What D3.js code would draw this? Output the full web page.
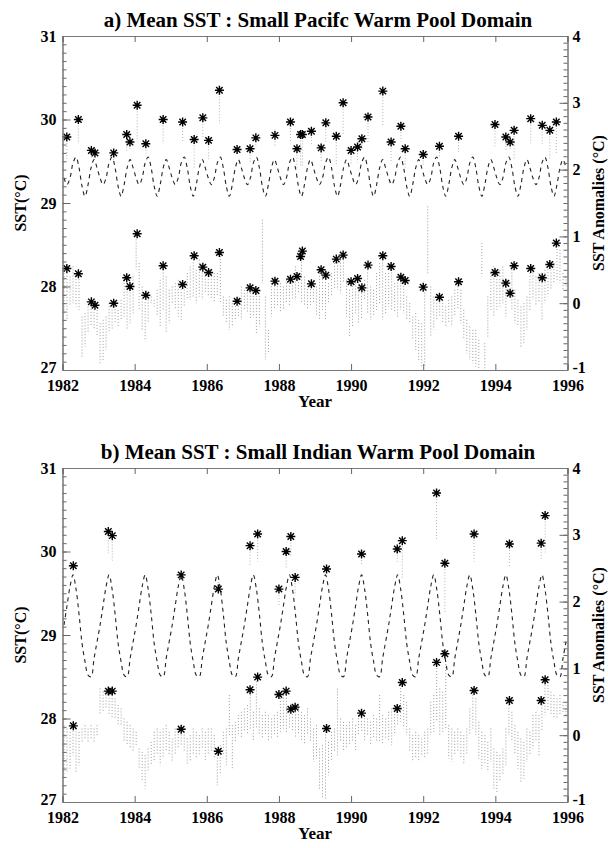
<!DOCTYPE html>
<html>
<head>
<meta charset="utf-8">
<script src="https://cdn.jsdelivr.net/npm/d3@7"></script>
<style>
  body { margin: 0; background: #fff; }
</style>
</head>
<body>
<div id="chart"></div>
<script>
// tick values
const xTicks = [1982, 1984, 1986, 1988, 1990, 1992, 1994, 1996];
const sstTicks = [27, 28, 29, 30, 31];
const anomTicks = [-1, 0, 1, 2, 3, 4];

// ---- a) Pacific ----
// mean seasonal cycle, Jan..Dec (degC)
const pacClim = [29.30, 29.22, 29.30, 29.48, 29.55, 29.42, 29.20, 29.08, 29.22, 29.42, 29.52, 29.42];

// marked events: time, SST (left axis) and anomaly (right axis)
const pacEventYear = [1982.12, 1982.44, 1982.80, 1982.90, 1983.42, 1983.78, 1983.87, 1984.07, 1984.31, 1984.79,
  1985.33, 1985.65, 1985.89, 1986.05, 1986.35, 1986.84, 1987.20, 1987.36, 1987.89, 1988.32,
  1988.50, 1988.60, 1988.65, 1988.90, 1989.17, 1989.30, 1989.59, 1989.78, 1990.00, 1990.18,
  1990.30, 1990.47, 1990.88, 1991.11, 1991.38, 1991.50, 1992.00, 1992.45, 1992.98, 1993.99,
  1994.29, 1994.41, 1994.52, 1994.98, 1995.30, 1995.51, 1995.69];
const pacEventSst = [29.79, 30.00, 29.63, 29.60, 29.60, 29.82, 29.73, 30.17, 29.71, 30.00,
  29.97, 29.76, 30.02, 29.75, 30.35, 29.64, 29.65, 29.78, 29.81, 29.97,
  29.65, 29.82, 29.82, 29.86, 29.66, 29.96, 29.80, 30.20, 29.63, 29.67,
  29.77, 30.03, 30.34, 29.73, 29.92, 29.65, 29.58, 29.68, 29.80, 29.94,
  29.79, 29.73, 29.87, 30.01, 29.93, 29.87, 29.97];
const pacEventAnom = [0.52, 0.44, 0.02, -0.03, 0.00, 0.38, 0.25, 1.04, 0.12, 0.56,
  0.28, 0.71, 0.54, 0.46, 0.76, 0.03, 0.23, 0.19, 0.33, 0.36,
  0.40, 0.70, 0.78, 0.29, 0.50, 0.42, 0.66, 0.72, 0.32, 0.37,
  0.23, 0.57, 0.71, 0.55, 0.39, 0.34, 0.24, 0.09, 0.32, 0.46,
  0.30, 0.15, 0.56, 0.52, 0.38, 0.58, 0.90];

// monthly anomaly range (weekly max / min), Jan 1982 .. Dec 1995
const pacAnomHi = [
  0.45, 0.50, 0.40, 0.55, 0.45, 0.45, -0.20, -0.15, -0.05, 0.05, 0.00, -0.10,
  -0.30, -0.25, -0.20, 0.00, -0.05, 0.00, -0.10, 0.05, 0.35, 0.40, 0.25, 0.40,
  1.00, 0.60, 0.25, 0.15, 0.10, 0.10, 0.05, 0.20, 0.35, 0.55, 0.40, 0.20,
  0.25, 0.30, 0.35, 0.30, 0.25, 0.45, 0.55, 0.70, 0.50, 0.65, 0.55, 0.50,
  0.45, 0.50, 0.45, 0.45, 0.75, 0.10, 0.05, 0.10, 0.00, 0.05, 0.05, 0.25,
  0.20, 0.25, 0.20, 0.15, 0.20, 0.15, 1.25, 0.10, -0.40, 0.30, 0.35, 0.30,
  0.30, 0.25, 0.35, 0.35, 0.40, 0.55, 0.45, 0.80, 0.40, 0.30, 0.30, 0.35,
  0.25, 0.50, 0.45, 0.45, 0.30, 0.45, 0.65, 0.70, 0.65, 0.70, 0.35, 0.20,
  0.35, 0.40, 0.40, 0.20, 0.35, 0.55, 0.25, 0.20, 0.45, 0.60, 0.70, 0.45,
  0.45, 0.55, 0.30, 0.40, 0.40, 0.35, 0.10, 0.00, -0.20, -0.15, -0.25, -0.30,
  0.25, 1.45, 0.25, 0.10, 0.00, 0.10, 0.05, -0.05, 0.05, 0.10, 0.20, 0.30,
  0.20, -0.10, -0.25, -0.35, -0.40, -0.40, -0.55, 0.90, -0.60, 0.10, 0.45, 0.55,
  0.45, 0.50, 0.55, 0.35, 0.30, 0.55, 0.20, 0.05, -0.05, 0.00, 0.10, 0.50,
  0.55, 0.40, 0.45, 0.40, 0.50, 0.60, 0.55, 0.60, 0.90, 0.80, 0.45, 0.40];
const pacAnomLo = [
  -0.15, -0.25, -0.05, 0.00, -0.05, -0.10, -0.80, -0.65, -0.45, -0.35, -0.40, -0.50,
  -0.90, -0.85, -0.70, -0.45, -0.40, -0.30, -0.35, -0.25, -0.20, -0.40, -0.30, -0.15,
  0.50, -0.10, -0.40, -0.55, -0.30, 0.00, -0.05, -0.20, -0.35, -0.10, -0.45, -0.30,
  0.00, -0.10, -0.20, -0.25, -0.05, 0.05, 0.05, 0.10, 0.00, 0.10, 0.05, 0.15,
  0.10, 0.05, 0.00, 0.10, 0.00, -0.20, -0.30, -0.40, -0.35, -0.25, -0.20, -0.25,
  -0.10, -0.15, -0.25, -0.20, -0.45, -0.35, 0.30, -0.85, -0.75, -0.20, -0.10, -0.05,
  -0.15, -0.10, 0.00, -0.05, 0.05, 0.05, 0.15, 0.00, -0.05, -0.10, -0.05, 0.00,
  -0.20, -0.25, -0.10, -0.25, 0.00, 0.10, 0.20, 0.20, 0.15, 0.30, -0.20, -0.50,
  -0.35, -0.15, -0.30, -0.25, 0.05, -0.15, -0.25, -0.20, -0.10, 0.00, -0.25, -0.15,
  -0.05, -0.10, -0.15, -0.20, -0.10, -0.15, -0.25, -0.30, -0.55, -0.70, -0.85, -0.95,
  -0.95, 0.45, -0.50, -0.40, -0.25, -0.20, -0.30, -0.35, -0.30, -0.35, -0.20, -0.10,
  -0.30, -0.55, -0.75, -0.85, -0.90, -0.95, -1.00, 0.40, -1.00, -0.50, -0.10, -0.20,
  -0.10, -0.05, 0.00, -0.20, 0.10, -0.10, -0.30, -0.35, -0.65, -0.60, -0.40, -0.10,
  0.05, -0.05, 0.00, -0.25, 0.00, 0.10, 0.20, 0.30, 0.35, 0.30, 0.20, 0.25];

// ---- b) Indian ----
const indClim = [29.12, 29.35, 29.58, 29.72, 29.55, 29.25, 28.90, 28.68, 28.52, 28.50, 28.72, 28.92];

const indEventYear = [1982.30, 1983.27, 1983.38, 1985.29, 1986.32, 1987.20, 1987.41, 1988.00, 1988.20, 1988.33,
  1988.45, 1989.32, 1990.29, 1991.28, 1991.42, 1992.37, 1992.60, 1993.41, 1994.39, 1995.27, 1995.38];
const indEventSst = [29.83, 30.24, 30.19, 29.72, 29.55, 30.07, 30.21, 29.55, 30.00, 30.18,
  29.69, 29.79, 29.97, 30.03, 30.13, 30.70, 29.86, 30.21, 30.09, 30.10, 30.43];
const indEventAnom = [0.14, 0.66, 0.66, 0.09, -0.24, 0.68, 0.87, 0.61, 0.66, 0.39,
  0.42, 0.10, 0.33, 0.40, 0.79, 1.09, 1.22, 0.67, 0.52, 0.52, 0.83];

const indAnomHi = [
  0.15, 0.10, 0.05, 0.20, 0.10, 0.05, 0.10, 0.15, 0.10, 0.15, 0.10, 0.15,
  0.70, 0.65, 0.70, 0.65, 0.60, 0.55, 0.45, 0.40, 0.25, 0.20, 0.15, 0.10,
  0.05, -0.20, -0.25, -0.30, -0.20, -0.10, 0.05, 0.10, 0.05, 0.10, 0.15, 0.05,
  -0.05, 0.10, 0.15, 0.10, 0.10, -0.05, 0.00, 0.10, 0.05, 0.00, 0.10, 0.05,
  0.10, 0.10, 0.00, -0.20, -0.15, 0.05, 0.10, 0.60, 0.15, 0.20, 0.30, 0.35,
  0.40, 0.45, 0.70, 0.35, 0.85, 0.40, 0.30, 0.35, 0.30, 0.25, 0.30, 0.35,
  0.60, 0.65, 0.65, 0.40, 0.45, 0.40, 0.45, 0.35, 0.30, 0.40, 0.25, 0.10,
  0.15, -0.20, -0.15, 0.10, -0.10, 0.05, 0.10, 0.70, 0.25, 0.20, 0.15, 0.20,
  0.25, 0.15, 0.30, 0.35, 0.30, 0.25, 0.20, 0.30, 0.25, 0.60, 0.30, 0.25,
  0.35, 0.40, 0.45, 0.40, 0.75, 0.60, 0.50, 0.10, 0.00, 0.05, 0.00, -0.05,
  0.05, 0.10, 0.50, 0.60, 1.05, 0.70, 0.65, 1.20, 0.15, 0.10, 0.05, 0.10,
  0.05, 0.00, 0.10, 0.40, 0.65, 0.55, 0.20, 0.05, 0.00, -0.10, 0.10, -0.20,
  -0.25, -0.30, -0.20, 0.10, 0.50, 0.35, 0.15, 0.05, -0.05, -0.10, 0.10, 0.05,
  0.30, 0.35, 0.30, 0.50, 0.80, 0.75, 0.65, 0.60, 0.55, 0.60, 0.50, 0.45];
const indAnomLo = [
  -0.60, -0.55, -0.50, -0.30, -0.55, -0.45, -0.10, -0.05, -0.10, -0.05, -0.10, 0.00,
  0.30, 0.35, 0.40, 0.30, 0.25, 0.25, 0.15, 0.15, -0.10, -0.15, -0.20, -0.25,
  -0.15, -0.50, -0.70, -0.80, -0.55, -0.45, -0.40, -0.30, -0.45, -0.35, -0.25, -0.30,
  -0.40, -0.30, -0.20, -0.15, -0.25, -0.45, -0.40, -0.30, -0.35, -0.30, -0.20, -0.40,
  -0.30, -0.25, -0.35, -0.75, -0.60, -0.30, -0.45, 0.00, -0.50, -0.10, 0.00, -0.05,
  0.05, 0.00, 0.10, -0.10, 0.10, 0.00, -0.05, 0.00, -0.10, -0.05, 0.00, -0.05,
  0.05, 0.10, 0.05, 0.10, 0.05, -0.05, 0.00, -0.10, -0.15, 0.00, -0.10, -0.40,
  -0.35, -0.80, -0.95, -0.95, -0.60, -0.40, -0.25, -0.30, -0.10, -0.25, -0.20, -0.15,
  -0.10, -0.25, 0.00, 0.05, -0.10, 0.00, -0.15, -0.05, -0.10, -0.10, -0.15, -0.05,
  -0.10, -0.15, 0.00, 0.15, 0.20, 0.10, 0.00, -0.25, -0.40, -0.35, -0.40, -0.30,
  -0.35, -0.30, 0.00, 0.05, 0.20, 0.00, 0.05, 0.10, -0.35, -0.40, -0.30, -0.25,
  -0.35, -0.45, -0.30, 0.00, 0.10, 0.00, -0.35, -0.50, -0.45, -0.55, -0.40, -0.80,
  -0.85, -0.70, -0.60, -0.45, 0.00, -0.10, -0.30, -0.50, -0.70, -0.65, -0.40, -0.30,
  -0.20, -0.10, -0.30, 0.05, 0.30, 0.35, 0.30, 0.25, 0.25, 0.30, 0.35, 0.30];


const W = 608, H = 848;
const left = 62.5, right = 567.5;
const font = "'Liberation Serif', 'Times New Roman', serif";

const svg = d3.select("#chart").append("svg")
  .attr("width", W)
  .attr("height", H)
  .style("font-family", font);

// mid-month times for the 14 years of monthly data
const months = d3.range(pacAnomHi.length).map(i => 1982 + (i + 0.5) / 12);

// asterisk glyph (IDL psym=2 look)
const asterisk = r => {
  const a = r * 0.72;
  return `M${-r},0L${r},0M0,${-r}L0,${r}M${-a},${-a}L${a},${a}M${-a},${a}L${a},${-a}`;
};

const drawPanel = (p, idx) => {
  const x = d3.scaleLinear().domain([1982, 1996]).range([left, right]);
  const ySst = d3.scaleLinear().domain([27, 31]).range([p.bottom, p.top]);
  const yAnom = d3.scaleLinear().domain([-1, 4]).range([p.bottom, p.top]);

  const g = svg.append("g");

  g.append("clipPath").attr("id", "clip" + idx)
    .append("rect")
    .attr("x", left).attr("y", p.top)
    .attr("width", right - left).attr("height", p.bottom - p.top);

  const plot = g.append("g").attr("clip-path", `url(#clip${idx})`);

  // anomaly: one dotted stroke per month, weekly min to max
  const anom = months.map((t, i) => ({t, hi: p.hi[i], lo: p.lo[i]}));
  plot.selectAll(".anom").data(anom).enter().append("line")
    .attr("x1", d => x(d.t)).attr("x2", d => x(d.t))
    .attr("y1", d => yAnom(d.hi)).attr("y2", d => yAnom(d.lo))
    .attr("stroke", "#8f8f8f")
    .attr("stroke-width", 0.9)
    .attr("stroke-dasharray", "1,2");

  // climatology, dashed
  const clim = months.map((t, i) => [t, p.clim[i % 12]]);
  plot.append("path")
    .attr("d", d3.line().x(d => x(d[0])).y(d => ySst(d[1])).curve(d3.curveCatmullRom)(clim))
    .attr("fill", "none")
    .attr("stroke", "#222")
    .attr("stroke-width", 1.1)
    .attr("stroke-dasharray", "4,4");

  // faint stems under the SST marks
  const ev = p.eventYear.map((t, i) => ({t, sst: p.eventSst[i], anom: p.eventAnom[i]}));
  plot.selectAll(".stem").data(ev).enter().append("line")
    .attr("x1", d => x(d.t)).attr("x2", d => x(d.t))
    .attr("y1", d => ySst(d.sst))
    .attr("y2", d => ySst((d.sst + p.clim[Math.floor((d.t % 1) * 12)]) / 2))
    .attr("stroke", "#aaa")
    .attr("stroke-width", 0.9)
    .attr("stroke-dasharray", "1,2");

  // asterisks
  const star = asterisk(4.5);
  g.selectAll(".sstMark").data(ev).enter().append("path")
    .attr("d", star)
    .attr("transform", d => `translate(${x(d.t)},${ySst(d.sst)})`)
    .attr("fill", "none").attr("stroke", "#000").attr("stroke-width", 1.4);
  g.selectAll(".anomMark").data(ev).enter().append("path")
    .attr("d", star)
    .attr("transform", d => `translate(${x(d.t)},${yAnom(d.anom)})`)
    .attr("fill", "none").attr("stroke", "#000").attr("stroke-width", 1.4);

  // axes
  const styleAxis = sel => {
    sel.select(".domain").attr("stroke", "#777");
    sel.selectAll(".tick line").attr("stroke", "#666");
    sel.selectAll("text")
      .attr("fill", "#000")
      .style("font-family", font)
      .style("font-weight", "bold")
      .style("font-size", "16px");
  };
  // lift the lowest side labels a touch so they clear the year labels
  const liftBottom = (sel, low) => sel.selectAll(".tick text")
    .attr("dy", d => d === low ? "0.18em" : "0.32em");

  g.append("g").attr("transform", `translate(${left},0)`)
    .call(d3.axisLeft(ySst).tickValues(d3.range(271, 311).map(v => v / 10)).tickSize(-4).tickFormat(""))
    .call(styleAxis);
  g.append("g").attr("transform", `translate(${left},0)`)
    .call(d3.axisLeft(ySst).tickValues(sstTicks).tickSize(-8).tickPadding(6).tickFormat(d => String(d)))
    .call(styleAxis)
    .call(sel => liftBottom(sel, 27));

  g.append("g").attr("transform", `translate(${right},0)`)
    .call(d3.axisRight(yAnom).tickValues(d3.range(-9, 40).map(v => v / 10)).tickSize(-4).tickFormat(""))
    .call(styleAxis);
  g.append("g").attr("transform", `translate(${right},0)`)
    .call(d3.axisRight(yAnom).tickValues(anomTicks).tickSize(-8).tickPadding(5).tickFormat(d => String(d)))
    .call(styleAxis)
    .call(sel => liftBottom(sel, -1));

  g.append("g").attr("transform", `translate(0,${p.bottom})`)
    .call(d3.axisBottom(x).tickValues(xTicks).tickSize(-6).tickPadding(10).tickFormat(d => String(d)))
    .call(styleAxis);
  g.append("g").attr("transform", `translate(0,${p.top})`)
    .call(d3.axisTop(x).tickValues(xTicks).tickSize(-6).tickFormat(""))
    .call(styleAxis);

  // titles
  const mid = (p.top + p.bottom) / 2;
  g.append("text")
    .attr("x", 318).attr("y", p.top - 9)
    .attr("text-anchor", "middle")
    .style("font-weight", "bold").style("font-size", "21px")
    .text(p.title);
  g.append("text")
    .attr("x", (left + right) / 2).attr("y", p.bottom + 37)
    .attr("text-anchor", "middle")
    .style("font-weight", "bold").style("font-size", "17px")
    .text("Year");
  g.append("text")
    .attr("transform", `translate(20,${mid}) rotate(-90)`)
    .attr("dy", "0.35em")
    .attr("text-anchor", "middle")
    .style("font-weight", "bold").style("font-size", "16px")
    .text("SST(°C)");
  g.append("text")
    .attr("transform", `translate(598,${mid}) rotate(-90)`)
    .attr("dy", "0.35em")
    .attr("text-anchor", "middle")
    .style("font-weight", "bold").style("font-size", "16px")
    .text("SST Anomalies (°C)");
};

drawPanel({
  title: "a) Mean SST : Small Pacifc Warm Pool Domain",
  top: 36, bottom: 370,
  clim: pacClim, hi: pacAnomHi, lo: pacAnomLo,
  eventYear: pacEventYear, eventSst: pacEventSst, eventAnom: pacEventAnom
}, 0);

drawPanel({
  title: "b) Mean SST : Small Indian Warm Pool Domain",
  top: 468, bottom: 802,
  clim: indClim, hi: indAnomHi, lo: indAnomLo,
  eventYear: indEventYear, eventSst: indEventSst, eventAnom: indEventAnom
}, 1);
</script>
</body>
</html>
